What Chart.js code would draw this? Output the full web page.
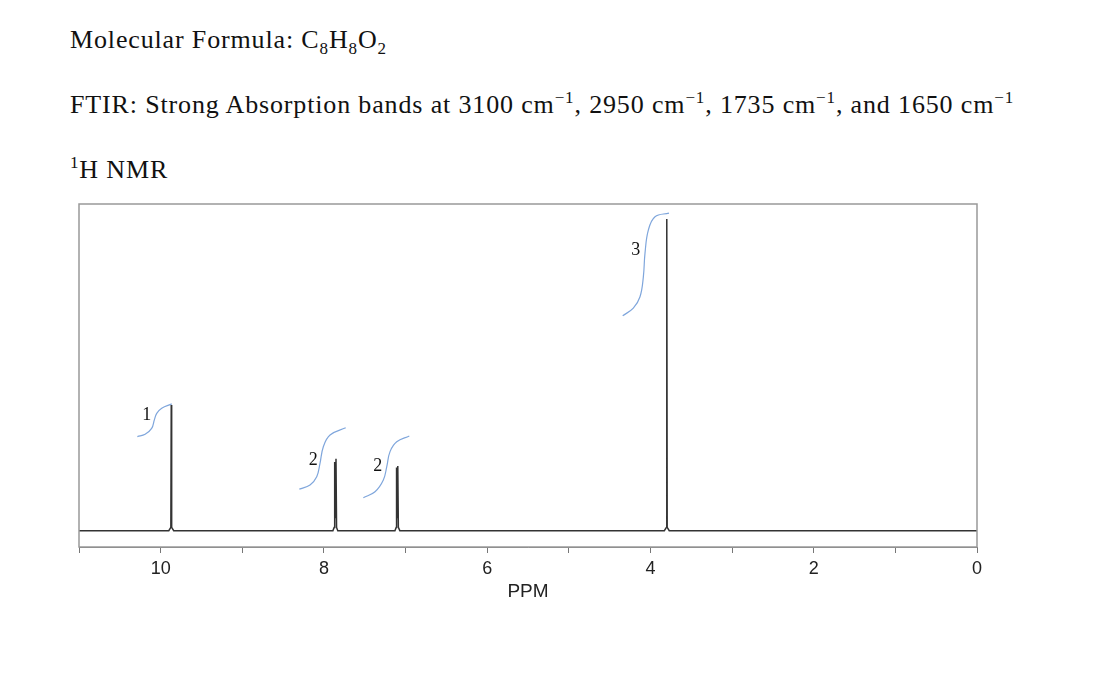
<!DOCTYPE html>
<html>
<head>
<meta charset="utf-8">
<script src="https://cdn.jsdelivr.net/npm/chart.js@4"></script>
<style>
  body { margin: 0; background: #fff; }
  .hdr { position: absolute; left: 70px; font-family: "Liberation Serif", serif; font-size: 26px; letter-spacing: 0.85px; color: #111; white-space: nowrap; }
  sub, sup { font-size: 17px; }
  #wrap { position: absolute; left: 0; top: 0; }
</style>
</head>
<body>
<div class="hdr" style="top:25px">Molecular Formula: C<sub>8</sub>H<sub>8</sub>O<sub>2</sub></div>
<div class="hdr" style="top:88px">FTIR: Strong Absorption bands at 3100 cm<sup>−1</sup>, 2950 cm<sup>−1</sup>, 1735 cm<sup>−1</sup>, and 1650 cm<sup>−1</sup></div>
<div class="hdr" style="top:153px"><sup>1</sup>H NMR</div>
<div id="wrap"><canvas id="myChart" width="1108" height="674"></canvas></div>
<script>
// spectrum trace (ppm / intensity)
const spectrumPpm = [11, 9.90, 9.875, 9.87, 9.865, 9.84, 7.89, 7.875, 7.868, 7.86, 7.852, 7.845, 7.83, 7.13, 7.115, 7.11, 7.102, 7.095, 7.088, 7.07, 3.83, 3.805, 3.80, 3.795, 3.77, 0];
const spectrumInt = [0, 0, 1, 38.5, 1, 0, 0, 1, 21.0, 4, 22.0, 1, 0, 0, 1, 19.3, 4, 19.8, 1, 0, 0, 1, 95.4, 1, 0, 0];

// integration curves
const int1Ppm = [10.285, 10.19, 10.11, 10.077, 10.048, 9.987, 9.864];
const int1Val = [28.8, 29.5, 31.3, 33.9, 35.9, 37.5, 38.8];
const int2Ppm = [8.301, 8.170, 8.088, 8.048, 8.007, 7.925, 7.733];
const int2Val = [12.7, 14.0, 16.5, 20.6, 25.7, 29.3, 31.5];
const int3Ppm = [7.517, 7.374, 7.272, 7.230, 7.190, 7.108, 6.954];
const int3Val = [10.1, 11.9, 15.5, 19.6, 24.2, 27.2, 29.0];
const int4Ppm = [4.340, 4.210, 4.128, 4.087, 4.067, 4.026, 3.944, 3.773];
const int4Val = [65.8, 68.1, 71.6, 77.7, 84.9, 92.0, 96.1, 97.2];

// integration labels
const labelText = ['1', '2', '2', '3'];
const labelPpm = [10.17, 8.13, 7.34, 4.18];
const labelVal = [35.4, 21.6, 19.8, 85.9];

const xTicks = [10, 8, 6, 4, 2, 0];

function pts(xs, ys) { return xs.map((x, i) => ({x: x, y: ys[i]})); }

const intStyle = { borderColor: '#7fa6dc', borderWidth: 1.2, pointRadius: 0, tension: 0.4, fill: false };

const boxPlugin = {
  id: 'box',
  afterDraw(chart) {
    const a = chart.chartArea, c = chart.ctx;
    c.save();
    c.strokeStyle = '#999';
    c.lineWidth = 1.5;
    c.strokeRect(a.left, a.top, a.right - a.left, a.bottom - a.top);
    c.restore();
  }
};

const labelPlugin = {
  id: 'intLabels',
  afterDatasetsDraw(chart) {
    const c = chart.ctx, xs = chart.scales.x, ys = chart.scales.y;
    c.save();
    c.font = '18px "Liberation Serif"';
    c.fillStyle = '#111';
    c.textAlign = 'center';
    c.textBaseline = 'middle';
    labelText.forEach((t, i) => {
      c.fillText(t, xs.getPixelForValue(labelPpm[i]), ys.getPixelForValue(labelVal[i]));
    });
    c.restore();
  }
};

const ctx = document.getElementById('myChart');
new Chart(ctx, {
  type: 'line',
  data: {
    datasets: [
      { data: pts(spectrumPpm, spectrumInt), borderColor: '#333', borderWidth: 1.5, pointRadius: 0, tension: 0 },
      Object.assign({ data: pts(int1Ppm, int1Val) }, intStyle),
      Object.assign({ data: pts(int2Ppm, int2Val) }, intStyle),
      Object.assign({ data: pts(int3Ppm, int3Val) }, intStyle),
      Object.assign({ data: pts(int4Ppm, int4Val) }, intStyle)
    ]
  },
  options: {
    responsive: false,
    animation: false,
    layout: { padding: { left: 79, right: 131, top: 204, bottom: 67 } },
    plugins: { legend: { display: false }, tooltip: { enabled: false } },
    scales: {
      x: {
        type: 'linear',
        reverse: true,
        min: 0,
        max: 11,
        afterFit(scale) { scale.height = 60; },
        ticks: {
          stepSize: 1,
          color: '#222',
          padding: 5,
          maxRotation: 0,
          font: { family: '"Liberation Sans", Arial', size: 18 },
          callback: v => xTicks.includes(v) ? String(v) : ''
        },
        grid: { drawOnChartArea: false, tickLength: 6, color: '#777' },
        border: { color: '#777' },
        title: { display: true, text: 'PPM', color: '#222', padding: { top: 0 }, font: { family: '"Liberation Sans", Arial', size: 19 } }
      },
      y: { display: false, min: -5, max: 100 }
    }
  },
  plugins: [boxPlugin, labelPlugin]
});
</script>
</body>
</html>
